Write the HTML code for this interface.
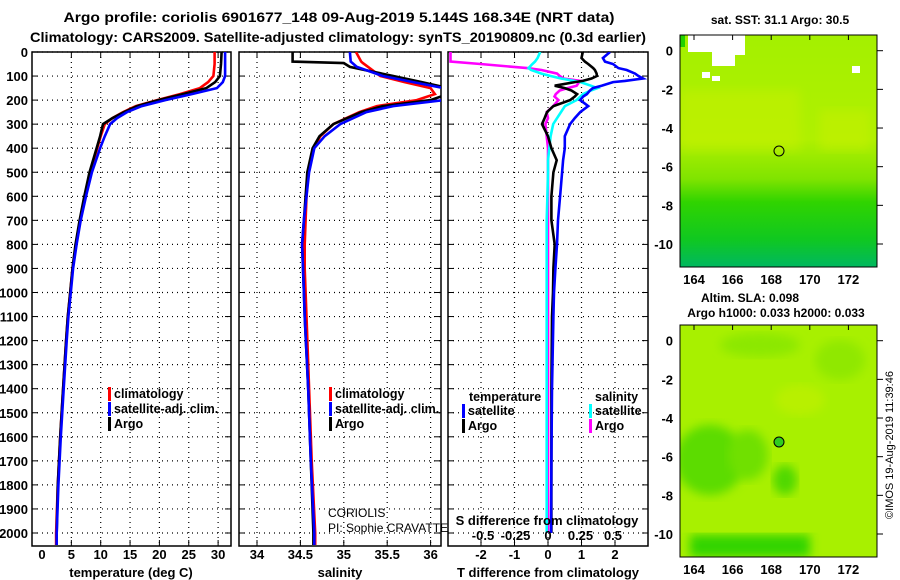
<!DOCTYPE html>
<html><head><meta charset="utf-8"><style>
body{margin:0;background:#fff;}
svg{display:block;font-family:"Liberation Sans",Arial,sans-serif;}
.b{font-weight:bold;}
</style></head><body>
<svg id="fig" width="900" height="580" viewBox="0 0 900 580">
<defs>
<clipPath id="c1"><rect x="32" y="52" width="199" height="494"/></clipPath>
<clipPath id="c2"><rect x="239" y="52" width="202" height="494"/></clipPath>
<clipPath id="c3"><rect x="448" y="52" width="200" height="494"/></clipPath>
<linearGradient id="sstg" x1="0" y1="0" x2="0" y2="1">
<stop offset="0" stop-color="#a4f000"/><stop offset="0.45" stop-color="#b0f000"/>
<stop offset="0.62" stop-color="#80e400"/><stop offset="0.72" stop-color="#30d400"/>
<stop offset="0.88" stop-color="#10c820"/><stop offset="1" stop-color="#00b860"/>
</linearGradient>
<filter id="blr"><feGaussianBlur stdDeviation="5"/></filter>
<clipPath id="m1"><rect x="680" y="35" width="197" height="232"/></clipPath>
<clipPath id="m2"><rect x="680" y="325" width="197" height="232"/></clipPath>
</defs>
<text class="b" x="339" y="22" font-size="14" text-anchor="middle" textLength="551" lengthAdjust="spacingAndGlyphs">Argo profile: coriolis 6901677_148 09-Aug-2019 5.144S 168.34E (NRT data)</text>
<text class="b" x="338" y="42" font-size="14" text-anchor="middle" textLength="616" lengthAdjust="spacingAndGlyphs">Climatology: CARS2009. Satellite-adjusted climatology: synTS_20190809.nc (0.3d earlier)</text>
<g id="panels"></g>
<g id="maps">
<g clip-path="url(#m1)">
<rect x="680" y="35" width="197" height="232" fill="url(#sstg)"/>
<rect x="680" y="90" width="120" height="60" fill="#c8f000" opacity="0.5" filter="url(#blr)"/>
<rect x="820" y="110" width="50" height="40" fill="#c8f000" opacity="0.5" filter="url(#blr)"/>
<polygon points="688,35 745,35 745,55 735,55 735,66 712,66 712,52 688,52" fill="#fff"/>
<rect x="680" y="35" width="5" height="12" fill="#20d000"/>
<rect x="852" y="66" width="8" height="7" fill="#fff"/>
<rect x="702" y="72" width="8" height="6" fill="#fff"/>
<rect x="712" y="76" width="8" height="5" fill="#fff"/>
</g>
<rect x="680" y="35" width="197" height="232" fill="none" stroke="#000"/>
<circle cx="779" cy="151" r="5" fill="none" stroke="#000"/>
<g clip-path="url(#m2)">
<rect x="680" y="325" width="197" height="232" fill="#a8f000"/>
<ellipse cx="710" cy="460" rx="35" ry="35" fill="#5cdc00" filter="url(#blr)"/>
<ellipse cx="748" cy="455" rx="20" ry="25" fill="#70e000" filter="url(#blr)"/>
<ellipse cx="785" cy="480" rx="12" ry="15" fill="#50d800" filter="url(#blr)"/>
<ellipse cx="760" cy="345" rx="40" ry="12" fill="#8ce800" filter="url(#blr)"/>
<ellipse cx="840" cy="360" rx="25" ry="20" fill="#90e800" filter="url(#blr)"/>
<rect x="690" y="535" width="120" height="22" fill="#30d400" filter="url(#blr)"/>
<ellipse cx="800" cy="400" rx="25" ry="15" fill="#c0f000" opacity="0.7" filter="url(#blr)"/>
</g>
<rect x="680" y="325" width="197" height="232" fill="none" stroke="#000"/>
<circle cx="779" cy="442" r="5" fill="#30cc20" stroke="#000"/>
<text class="b" x="780" y="24" font-size="12" text-anchor="middle">sat. SST: 31.1 Argo: 30.5</text>
<text class="b" x="750" y="302" font-size="12" text-anchor="middle">Altim. SLA: 0.098</text>
<text class="b" x="776" y="317" font-size="12" text-anchor="middle">Argo h1000: 0.033 h2000: 0.033</text>
<text x="893" y="445" font-size="11" text-anchor="middle" transform="rotate(-90 893 445)">©IMOS 19-Aug-2019 11:39:46</text>
</g>
</svg>
<script>
const depthT = [0,50,100,125,150,175,200,225,250,275,300,350,400,500,600,700,800,900,1000,1100,1200,1400,1600,1800,2000,2050];
const tempClim = [29.4,29.4,29.2,28.3,26.9,23.5,19.6,16,13.8,12,10.7,10,9.4,8.2,7.3,6.5,5.8,5.2,4.8,4.4,4.1,3.6,3.1,2.7,2.4,2.4];
const tempSat = [31.2,31.2,31.2,30.8,29.8,25.5,21,17,14.5,12.8,11.6,10.7,9.9,8.5,7.5,6.6,5.9,5.3,4.9,4.5,4.2,3.7,3.2,2.8,2.5,2.5];
const tempArgo = [30.6,30.5,30.3,29.5,28,24,19.8,16.2,14,12,10.4,9.9,9.3,8.1,7.2,6.4,5.7,5.2,4.8,4.4,4.1,3.6,3.1,2.7,2.5,2.5];
const depthS = [0,40,46,62,100,125,150,175,200,225,250,300,350,400,500,600,700,800,900,1000,1100,1400,1700,2000,2050];
const salClim = [35.14,35.2,35.22,35.28,35.42,35.7,36.0,36.05,35.84,35.38,35.18,34.88,34.73,34.65,34.59,34.57,34.56,34.55,34.55,34.56,34.57,34.6,34.63,34.67,34.67];
const salSat = [35.07,35.08,35.1,35.15,35.45,35.8,36.15,36.2,36.15,35.57,35.26,34.96,34.78,34.66,34.6,34.57,34.54,34.52,34.53,34.54,34.55,34.59,34.62,34.66,34.66];
const salArgo = [34.41,34.41,35.0,35.07,35.57,35.9,36.2,36.2,36.0,35.45,35.2,34.88,34.72,34.64,34.58,34.56,34.54,34.52,34.53,34.54,34.55,34.59,34.62,34.65,34.65];
const depthD = [0,25,40,50,67,75,90,100,110,120,125,140,150,160,175,185,200,225,250,275,300,350,400,450,500,600,700,800,900,1000,1100,1400,1700,2000];
const tdArgo = [1.04,1.0,1.1,1.2,1.35,1.4,1.45,1.46,1.3,1.04,0.8,0.2,0.5,0.7,0.87,0.8,0.66,0.16,-0.03,-0.1,-0.18,0,0.1,0.26,0.16,0.1,0.1,0.2,0.16,0.15,0.12,0.1,0.1,0.1];
const tdSat = [1.85,1.64,1.7,1.94,2.1,2.35,2.6,2.7,2.84,2.3,1.94,1.6,1.34,1.25,1.16,1.05,0.96,1.2,0.96,0.8,0.66,0.5,0.5,0.45,0.42,0.36,0.3,0.27,0.22,0.18,0.16,0.12,0.1,0.09];
const sdArgo = [-0.75,-0.75,-0.75,-0.52,-0.16,-0.05,0.07,0.09,0.12,0.25,0.24,0.22,0.15,0.09,0.06,0.05,0.08,0.04,-0.01,0,-0.02,-0.01,0,0,0,0,0,0,0,0,0,0,0,0];
const sdSat = [-0.06,-0.08,-0.1,-0.12,-0.15,-0.13,-0.05,0.02,0.1,0.2,0.25,0.33,0.38,0.33,0.27,0.25,0.22,0.13,0.1,0.07,0.04,0.02,0.01,0,0,-0.005,-0.01,-0.01,-0.01,-0.01,-0.01,-0.01,-0.01,-0.01];
const depthTicks = [0,100,200,300,400,500,600,700,800,900,1000,1100,1200,1300,1400,1500,1600,1700,1800,1900,2000];
const tempTicks = [0,5,10,15,20,25,30];
const salTicks = [34,34.5,35,35.5,36];
const tdTicks = [-2,-1,0,1,2];
const sdTicks = [-0.5,-0.25,0,0.25,0.5];
const sdTickLabels = ['-0.5','-0.25','0','0.25','0.5'];
const sstLatTicks = [0,-2,-4,-6,-8,-10];
const lonTicks = [164,166,168,170,172];

const NS='http://www.w3.org/2000/svg';
const root=document.getElementById('panels');
function el(tag,attrs,parent){const e=document.createElementNS(NS,tag);for(const k in attrs)e.setAttribute(k,attrs[k]);(parent||root).appendChild(e);return e;}
const yD=d=>52+d*0.2405;
const xT=v=>42+v*5.87;
const xS=v=>257+(v-34)*86.8;
const xTD=v=>548+v*33.5;
const xSD=v=>548+v*130;

function frame(x0,x1,name){
  const g=el('g',{});
  
  
  depthTicks.forEach(d=>{const l=el('line',{x1:x0,x2:x1,y1:yD(d),y2:yD(d),stroke:'#000','stroke-dasharray':'1,4','stroke-width':1.2},g);
    
    
    el('line',{x1:x0,x2:x0+6,y1:yD(d),y2:yD(d),stroke:'#000'},g);el('line',{x1:x1-6,x2:x1,y1:yD(d),y2:yD(d),stroke:'#000'},g);});
  const r=el('rect',{x:x0,y:52,width:x1-x0,height:494,fill:'none',stroke:'#000','stroke-width':1.5},g);
  
  
  return g;
}
function vgrid(g,ticks,f){ticks.forEach(v=>{const x=f(v);const l=el('line',{x1:x,x2:x,y1:52,y2:546,stroke:'#000','stroke-dasharray':'1,4','stroke-width':1.2},g);
  
  
  el('line',{x1:x,x2:x,y1:52,y2:58,stroke:'#000'},g);el('line',{x1:x,x2:x,y1:540,y2:546,stroke:'#000'},g);});}
function xlabels(ticks,labels,f,y,name){ticks.forEach((v,i)=>{const t=el('text',{x:f(v),y:y,'font-size':13,'font-weight':'bold','text-anchor':'middle'});t.textContent=labels[i];
  
  });}
function series(depths,vals,f,color,clip,name,w){
  const pts=depths.map((d,i)=>f(vals[i]).toFixed(1)+','+yD(d).toFixed(1)).join(' ');
  const p=el('polyline',{points:pts,fill:'none',stroke:color,'stroke-width':w||2.6,'clip-path':'url(#'+clip+')'});
  
  
}
function text(x,y,s,name,opts){const t=el('text',Object.assign({x:x,y:y,'font-size':13,'font-weight':'bold'},opts||{}));t.textContent=s;
  
  return t;}
function legendItem(x,y,color,label,name){const r=el('rect',{x:x,y:y-11,width:3,height:14,fill:color});
  
  
  text(x+6,y,label,name,{'font-size':12.5});}

// y labels
depthTicks.forEach(d=>{const t=el('text',{x:28,y:yD(d)+5,'font-size':13,'font-weight':'bold','text-anchor':'end'});t.textContent=d;
  
  });

// panel 1
const g1=frame(32,231,'temperature-panel');vgrid(g1,tempTicks.slice(1),xT);
series(depthT,tempClim,xT,'#f00','c1','temp-climatology-line');
series(depthT,tempArgo,xT,'#000','c1','temp-argo-line');
series(depthT,tempSat,xT,'#00f','c1','temp-satellite-line');
xlabels(tempTicks,tempTicks.map(String),xT,559,'temp-tick-label');
text(131,577,'temperature (deg C)','temperature-axis-title',{'text-anchor':'middle'});
legendItem(108,398,'#f00','climatology','legend-temp-climatology');
legendItem(108,413,'#00f','satellite-adj. clim.','legend-temp-satellite');
legendItem(108,428,'#000','Argo','legend-temp-argo');

// panel 2
const g2=frame(239,441,'salinity-panel');vgrid(g2,salTicks,xS);
series(depthS,salClim,xS,'#f00','c2','sal-climatology-line');
series(depthS,salArgo,xS,'#000','c2','sal-argo-line');
series(depthS,salSat,xS,'#00f','c2','sal-satellite-line');
xlabels(salTicks,['34','34.5','35','35.5','36'],xS,559,'sal-tick-label');
text(340,577,'salinity','salinity-axis-title',{'text-anchor':'middle'});
legendItem(329,398,'#f00','climatology','legend-sal-climatology');
legendItem(329,413,'#00f','satellite-adj. clim.','legend-sal-satellite');
legendItem(329,428,'#000','Argo','legend-sal-argo');
text(328,517,'CORIOLIS','institution-label',{'font-weight':'normal','font-size':12});
text(328,532,'PI: Sophie CRAVATTE','pi-label',{'font-weight':'normal','font-size':12});

// panel 3
const g3=frame(448,648,'difference-panel');vgrid(g3,tdTicks,xTD);
series(depthD,sdArgo,xSD,'#f0f','c3','sal-diff-argo-line');
series(depthD,sdSat,xSD,'#0ff','c3','sal-diff-satellite-line');
series(depthD,tdArgo,xTD,'#000','c3','temp-diff-argo-line');
series(depthD,tdSat,xTD,'#00f','c3','temp-diff-satellite-line');
xlabels(tdTicks,tdTicks.map(String),xTD,559,'temp-diff-tick-label');
text(548,577,'T difference from climatology','temp-diff-axis-title',{'text-anchor':'middle'});
xlabels(sdTicks,sdTickLabels,xSD,540,'sal-diff-tick-label');
text(547,525,'S difference from climatology','sal-diff-axis-title',{'text-anchor':'middle'});
text(469,401,'temperature','legend-temp-heading',{'font-size':12.5});
text(595,401,'salinity','legend-sal-heading',{'font-size':12.5});
legendItem(462,415,'#00f','satellite','legend-diff-temp-satellite');
legendItem(462,430,'#000','Argo','legend-diff-temp-argo');
legendItem(589,415,'#0ff','satellite','legend-diff-sal-satellite');
legendItem(589,430,'#f0f','Argo','legend-diff-sal-argo');

// map axes
const maps=document.getElementById('maps');
function mapAxes(top,lat0,name){
  sstLatTicks.forEach(v=>{const y=lat0-v*19.33;
    const t=el('text',{x:673,y:y+5,'font-size':13,'font-weight':'bold','text-anchor':'end'},maps);t.textContent=v;
    
    
    el('line',{x1:877,x2:883,y1:y,y2:y,stroke:'#000'},maps);});
  lonTicks.forEach(v=>{const x=694+(v-164)*19.3;
    const t=el('text',{x:x,y:top+232+17,'font-size':13,'font-weight':'bold','text-anchor':'middle'},maps);t.textContent=v;
    
    
    el('line',{x1:x,x2:x,y1:top,y2:top+5,stroke:'#000'},maps);});
}
mapAxes(35,50.7,'sst-map');
mapAxes(325,340.7,'sla-map');
</script>
</body></html>
